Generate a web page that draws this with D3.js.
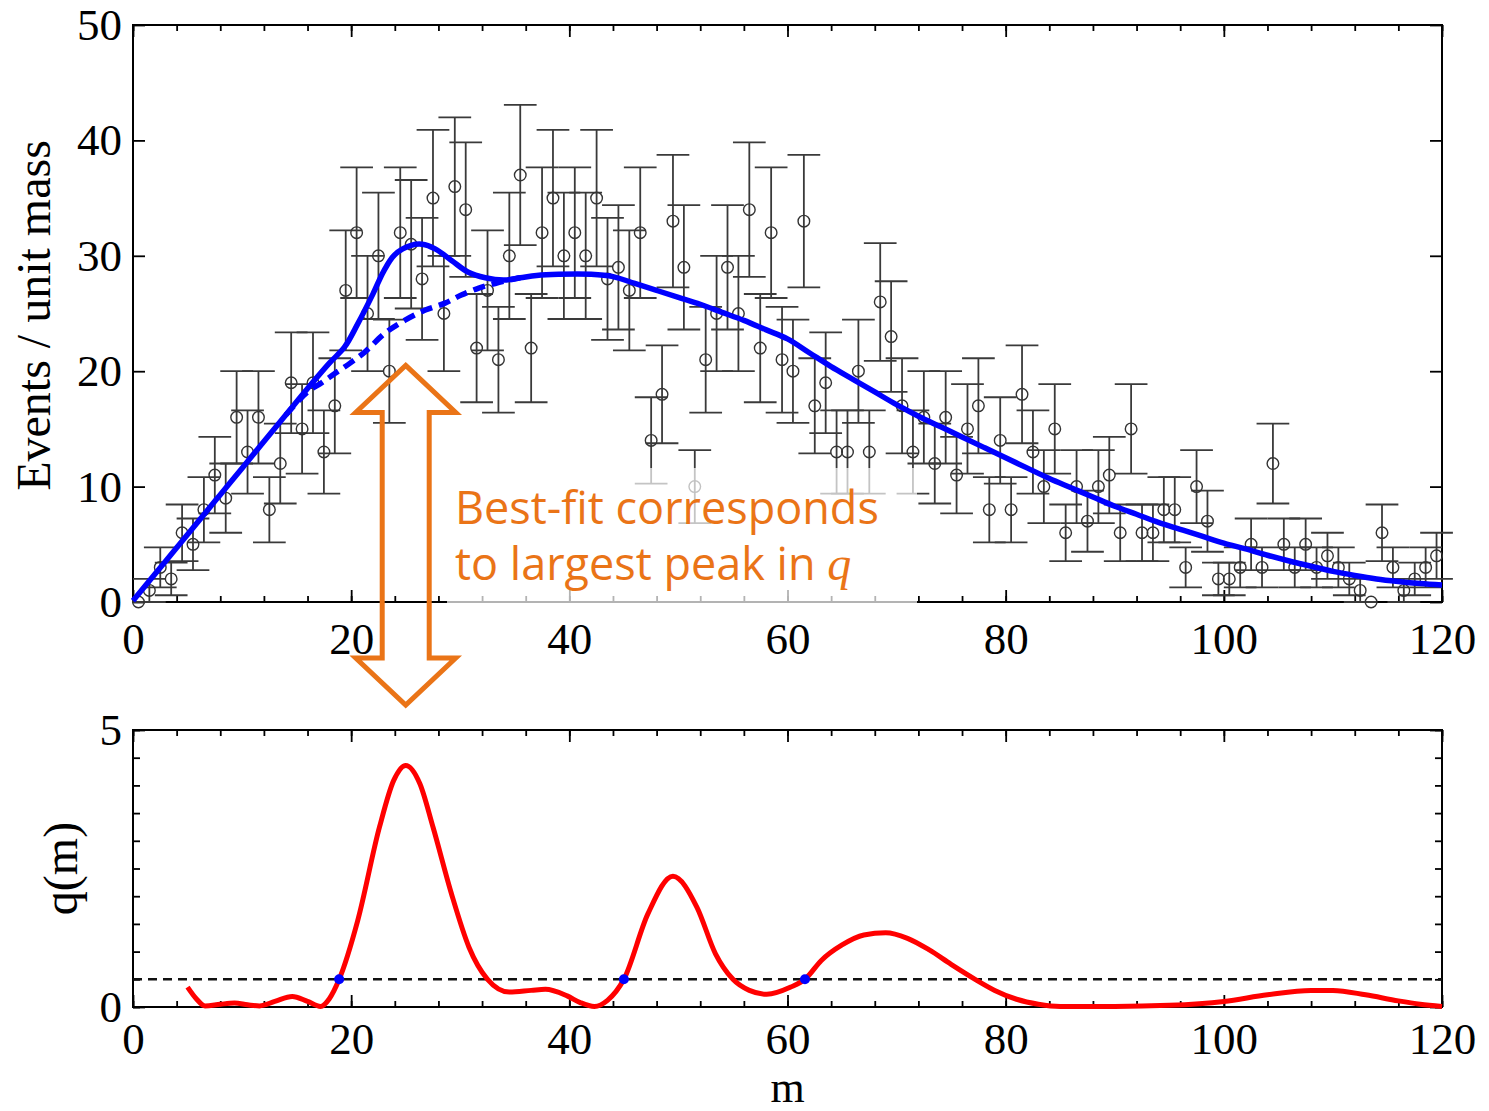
<!DOCTYPE html>
<html>
<head>
<meta charset="utf-8">
<script src="https://cdn.jsdelivr.net/npm/d3@7"></script>
<style>
  body { margin: 0; background: #fff; }
  svg { display: block; }
</style>
</head>
<body>
<svg id="chart" width="1489" height="1111"></svg>
<script>
// Observed events per unit-mass bin, bins [0,1), [1,2), ... [119,120)
const counts = [
  0, 1, 3, 2, 6, 5, 8, 11, 9, 16, 13, 16, 8, 12, 19, 15, 19, 13, 17, 27,
  32, 25, 30, 20, 32, 31, 28, 35, 25, 36, 34, 22, 27, 21, 30, 37, 22, 32, 35, 30,
  32, 30, 35, 28, 29, 27, 32, 14, 18, 33, 29, 10, 21, 25, 29, 25, 34, 22, 32, 21,
  20, 33, 17, 19, 13, 13, 20, 13, 26, 23, 17, 13, 16, 12, 16, 11, 15, 17, 8, 14,
  8, 18, 13, 10, 15, 6, 10, 7, 10, 11, 6, 15, 6, 6, 8, 8, 3, 10, 7, 2,
  2, 3, 5, 3, 12, 5, 3, 5, 3, 4, 3, 2, 1, 0, 6, 3, 1, 2, 3, 4
];
const binWidth = 1;

// Best fit (signal + background)
const fitMass = [0, 2, 4, 6, 8, 10, 12, 14, 16, 18, 19.4, 20.6, 22, 23, 24, 25.5, 26.5, 27.7, 29.2,
  30.7, 32.3, 34, 35.5, 37, 39, 42, 44, 46, 48, 50, 52, 54, 56, 58, 60, 62, 64, 66, 68, 70,
  72, 74, 76, 78, 80, 82, 84, 86, 88, 90, 92, 94, 96, 98, 100, 102, 104, 106, 108, 110,
  112, 114, 116, 118, 120];
const fitEvents = [0.1, 2.4, 4.7, 7.0, 9.3, 11.6, 13.9, 16.2, 18.5, 20.7, 22.1, 24.1, 26.7, 28.7, 30.1, 30.9, 31.0, 30.6, 29.6,
  28.6, 28.1, 27.9, 28.1, 28.3, 28.4, 28.4, 28.2, 27.6, 27.0, 26.4, 25.8, 25.1, 24.4, 23.6, 22.8, 21.6, 20.4, 19.3, 18.2, 17.1,
  16.1, 15.2, 14.3, 13.4, 12.5, 11.6, 10.7, 9.9, 9.1, 8.3, 7.6, 6.9, 6.3, 5.7, 5.1, 4.6, 4.05, 3.55, 3.1, 2.65,
  2.3, 2.0, 1.78, 1.6, 1.47];

// Background-only component where it departs from the full fit
const bgMass = [14, 16, 17.3, 18.5, 19.9, 21.3, 23.1, 24.9, 26.8, 28.6, 30.1, 31.7, 33.2, 34.5, 35.5];
const bgEvents = [16.2, 18.2, 19.0, 19.8, 20.7, 21.7, 23.3, 24.4, 25.3, 25.9, 26.6, 27.2, 27.6, 27.9, 28.1];

// Scan statistic q(m)
const qMass = [5, 5.8, 6.6, 8, 9.3, 10.5, 11.6, 13, 14.6, 16, 17.2, 18, 18.9, 20.6, 22.6, 23.9, 25, 26.3,
  27.5, 29.2, 30.8, 32.5, 34.5, 36.5, 37.8, 39.8, 41, 42.3, 43.5, 45, 47.2, 49.5, 51.7, 53.4, 55,
  56.5, 58.1, 60.3, 61.6, 63.1, 65, 67, 69, 71, 73, 75, 77.2, 79, 81, 83, 85, 90, 95, 100, 104,
  108, 110, 113, 116, 118, 120];
const qValues = [0.36, 0.15, 0.02, 0.05, 0.07, 0.04, 0.02, 0.1, 0.19, 0.1, 0.01, 0.15, 0.5, 1.56, 3.25, 4.09, 4.36, 4.03,
  3.25, 2.04, 1.08, 0.5, 0.27, 0.3, 0.32, 0.2, 0.08, 0.01, 0.12, 0.5, 1.68, 2.36, 1.8, 0.96, 0.5,
  0.3, 0.23, 0.36, 0.5, 0.84, 1.12, 1.3, 1.34, 1.24, 1.03, 0.77, 0.5, 0.3, 0.14, 0.05, 0.01, 0.01, 0.03, 0.1, 0.22,
  0.3, 0.3, 0.22, 0.11, 0.05, 0.01];
const qThreshold = 0.5;
const crossMass = [18.9, 45.0, 61.6];
const peakMass = 25;

const xTickMajor = [0, 20, 40, 60, 80, 100, 120];
const xTickMinor = d3.range(0, 121, 4);
const yTopTicks = [0, 10, 20, 30, 40, 50];
const yBotMajor = [0, 5];
const yBotMinor = d3.range(0, 5.01, 0.5);

const annotLines = ["Best-fit corresponds", "to largest peak in "];

const ORANGE = "#EA7417";
const SERIF = "'Liberation Serif', 'Times New Roman', serif";

const svg = d3.select("#chart");
svg.append("rect").attr("width", 1489).attr("height", 1111).attr("fill", "#fff");

const x = d3.scaleLinear().domain([0, 120]).range([133, 1442]);
const yTop = d3.scaleLinear().domain([0, 50]).range([602, 25]);
const yBot = d3.scaleLinear().domain([0, 5]).range([1007, 730]);

// ---------- framed axes with inward ticks ----------
function frame(y, yMajor, yMinor, xPad) {
  const g = svg.append("g");
  const [y0, y1] = y.range();
  const styleAxis = sel => {
    sel.select(".domain").remove();
    sel.selectAll(".tick line").attr("stroke", "#000").attr("stroke-width", 1.8);
    sel.selectAll(".tick text").attr("font-family", SERIF).attr("font-size", 45).attr("fill", "#000");
  };
  // bottom
  g.append("g").attr("transform", `translate(0,${y0})`)
    .call(d3.axisBottom(x).tickValues(xTickMinor).tickSize(-6).tickFormat("")).call(styleAxis);
  g.append("g").attr("transform", `translate(0,${y0})`)
    .call(d3.axisBottom(x).tickValues(xTickMajor).tickSize(-12).tickPadding(xPad).tickFormat(d3.format("d"))).call(styleAxis);
  // top
  g.append("g").attr("transform", `translate(0,${y1})`)
    .call(d3.axisTop(x).tickValues(xTickMinor).tickSize(-6).tickFormat("")).call(styleAxis);
  g.append("g").attr("transform", `translate(0,${y1})`)
    .call(d3.axisTop(x).tickValues(xTickMajor).tickSize(-12).tickFormat("")).call(styleAxis);
  // left / right
  if (yMinor) {
    g.append("g").attr("transform", `translate(${x(0)},0)`)
      .call(d3.axisLeft(y).tickValues(yMinor).tickSize(-7).tickFormat("")).call(styleAxis);
    g.append("g").attr("transform", `translate(${x(120)},0)`)
      .call(d3.axisRight(y).tickValues(yMinor).tickSize(-7).tickFormat("")).call(styleAxis);
  }
  g.append("g").attr("transform", `translate(${x(0)},0)`)
    .call(d3.axisLeft(y).tickValues(yMajor).tickSize(-12).tickPadding(11).tickFormat(d3.format("d"))).call(styleAxis);
  g.append("g").attr("transform", `translate(${x(120)},0)`)
    .call(d3.axisRight(y).tickValues(yMajor).tickSize(-12).tickFormat("")).call(styleAxis);
  g.append("rect")
    .attr("x", x(0)).attr("y", y1).attr("width", x(120) - x(0)).attr("height", y0 - y1)
    .attr("fill", "none").attr("stroke", "#000").attr("stroke-width", 2);
  return g;
}

frame(yTop, yTopTicks, null, 20);
frame(yBot, yBotMajor, yBotMinor, 15);

// ---------- top panel: data with Poisson (sqrt n) error bars ----------
const pts = counts.map((n, i) => ({ m: i * binWidth + binWidth / 2, n, err: Math.sqrt(n) }));
const ebar = svg.append("g").attr("stroke", "#3a3a3a").attr("stroke-width", 1.8).attr("fill", "none");
pts.filter(d => d.n > 0).forEach(d => {
  ebar.append("line").attr("x1", x(d.m)).attr("x2", x(d.m)).attr("y1", yTop(d.n - d.err)).attr("y2", yTop(d.n + d.err));
  [d.n - d.err, d.n + d.err].forEach(v => {
    ebar.append("line").attr("x1", x(d.m - 1.5)).attr("x2", x(d.m + 1.5)).attr("y1", yTop(v)).attr("y2", yTop(v));
  });
});
svg.append("g").selectAll("circle").data(pts).join("circle")
  .attr("cx", d => x(d.m)).attr("cy", d => yTop(d.n)).attr("r", 5.8)
  .attr("fill", "none").attr("stroke", "#333").attr("stroke-width", 1.4);

// fit curves
const fitLine = d3.line().x(d => x(d[0])).y(d => yTop(d[1])).curve(d3.curveCatmullRom.alpha(0.5));
svg.append("path").datum(bgMass.map((m, i) => [m, bgEvents[i]]))
  .attr("d", fitLine).attr("fill", "none").attr("stroke", "#0000ff").attr("stroke-width", 5.5)
  .attr("stroke-dasharray", "12,7");
svg.append("path").datum(fitMass.map((m, i) => [m, fitEvents[i]]))
  .attr("d", fitLine).attr("fill", "none").attr("stroke", "#0000ff").attr("stroke-width", 5.5)
  .attr("stroke-linejoin", "round");

// ---------- bottom panel: q(m) ----------
svg.append("line")
  .attr("x1", x(0)).attr("x2", x(120)).attr("y1", yBot(qThreshold)).attr("y2", yBot(qThreshold))
  .attr("stroke", "#111").attr("stroke-width", 2.5).attr("stroke-dasharray", "9,6");
svg.append("path").datum(qMass.map((m, i) => [m, qValues[i]]))
  .attr("d", d3.line().x(d => x(d[0])).y(d => yBot(d[1])).curve(d3.curveMonotoneX))
  .attr("fill", "none").attr("stroke", "#ff0000").attr("stroke-width", 5).attr("stroke-linejoin", "round");
svg.append("g").selectAll("circle").data(crossMass).join("circle")
  .attr("cx", d => x(d)).attr("cy", yBot(qThreshold)).attr("r", 5).attr("fill", "#0000ff");

// ---------- axis titles ----------
svg.append("text").attr("transform", `translate(50,${(yTop(0) + yTop(50)) / 2 + 2}) rotate(-90)`)
  .attr("text-anchor", "middle").attr("font-family", SERIF).attr("font-size", 48).text("Events / unit mass");
svg.append("text").attr("transform", `translate(77,${(yBot(0) + yBot(5)) / 2}) rotate(-90)`)
  .attr("text-anchor", "middle").attr("font-family", SERIF).attr("font-size", 48).text("q(m)");
svg.append("text").attr("x", x(60)).attr("y", 1102)
  .attr("text-anchor", "middle").attr("font-family", SERIF).attr("font-size", 44).text("m");

// ---------- annotation ----------
svg.append("rect").attr("x", 447).attr("y", 468).attr("width", 470).attr("height", 138)
  .attr("fill", "#fff").attr("opacity", 0.7);

const ax = x(peakMass), aTop = yTop(20.5), aBot = yBot(5.45);
const headW = 50, shaftW = 23.5, headL = 47;
const arrow = d3.path();
arrow.moveTo(ax, aTop);
arrow.lineTo(ax + headW, aTop + headL);
arrow.lineTo(ax + shaftW, aTop + headL);
arrow.lineTo(ax + shaftW, aBot - headL);
arrow.lineTo(ax + headW, aBot - headL);
arrow.lineTo(ax, aBot);
arrow.lineTo(ax - headW, aBot - headL);
arrow.lineTo(ax - shaftW, aBot - headL);
arrow.lineTo(ax - shaftW, aTop + headL);
arrow.lineTo(ax - headW, aTop + headL);
arrow.closePath();
svg.append("path").attr("d", arrow.toString()).attr("fill", "none")
  .attr("stroke", ORANGE).attr("stroke-width", 5).attr("stroke-linejoin", "miter");

const note = svg.append("text").attr("font-family", "'Open Sans', 'Noto Sans', sans-serif")
  .attr("font-size", 45).attr("fill", ORANGE);
note.append("tspan").attr("x", 455).attr("y", 524).text(annotLines[0]);
note.append("tspan").attr("x", 455).attr("y", 580).text(annotLines[1]);
note.append("tspan").attr("font-family", "'Liberation Serif', serif").attr("font-style", "italic")
  .attr("font-size", 48).text("q");
</script>
</body>
</html>
